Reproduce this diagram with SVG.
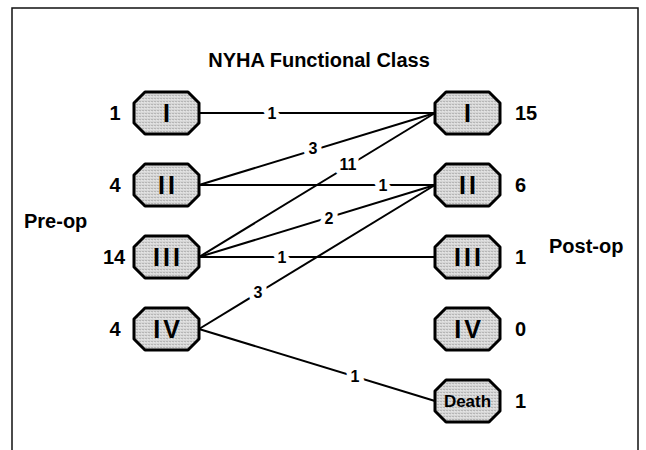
<svg xmlns="http://www.w3.org/2000/svg" width="646" height="450" viewBox="0 0 646 450">
  <style>
    .frame { fill: none; stroke: #111; stroke-width: 1.5; }
    .node { fill: url(#stipple); stroke: #000; stroke-width: 3; stroke-linejoin: round; }
    .num { font-family: "Liberation Sans", Arial, sans-serif; font-weight: bold; font-size: 25px; letter-spacing: 3px; fill: #000; text-anchor: middle; }
    .death { font-family: "Liberation Sans", Arial, sans-serif; font-weight: bold; font-size: 17px; fill: #000; text-anchor: middle; }
    .lab { font-family: "Liberation Sans", Arial, sans-serif; font-weight: bold; font-size: 20px; fill: #000; }
    .edge { stroke: #000; stroke-width: 2; fill: none; }
    .elab { font-family: "Liberation Sans", Arial, sans-serif; font-weight: bold; font-size: 16px; fill: #000; text-anchor: middle;
            stroke: #fff; stroke-width: 10; paint-order: stroke; stroke-linejoin: round; }
  </style>
  <defs>
    <!-- light grey stipple used to fill the class boxes -->
    <pattern id="stipple" width="3" height="3" patternUnits="userSpaceOnUse">
      <rect width="3" height="3" fill="#d6d6d6"/>
      <rect x="0" y="0" width="1" height="1" fill="#959595"/>
      <rect x="2" y="1" width="1" height="1" fill="#f0f0f0"/>
    </pattern>
    <!-- octagonal class box, 65 x 42 -->
    <polygon id="oct" points="-21.5,-21 21.5,-21 32.5,-10 32.5,10 21.5,21 -21.5,21 -32.5,10 -32.5,-10"/>
  </defs>

  <rect width="646" height="450" fill="#fff"/>
  <!-- outer frame -->
  <path class="frame" d="M12,452 V8 H638 V452"/>

  <text class="lab" x="319" y="67" text-anchor="middle" font-size="17">NYHA Functional Class</text>
  <text class="lab" x="24" y="228" font-size="21">Pre-op</text>
  <text class="lab" x="549" y="253" font-size="20">Post-op</text>

  <!-- transitions between classes -->
  <g id="connectors">
    <line class="edge" x1="199" y1="113" x2="435" y2="113"/>
    <line class="edge" x1="199" y1="185" x2="435" y2="113"/>
    <line class="edge" x1="199" y1="185" x2="435" y2="185"/>
    <line class="edge" x1="199" y1="257" x2="435" y2="113"/>
    <line class="edge" x1="199" y1="257" x2="435" y2="185"/>
    <line class="edge" x1="199" y1="257" x2="435" y2="257"/>
    <line class="edge" x1="199" y1="329" x2="435" y2="185"/>
    <line class="edge" x1="199" y1="329" x2="435" y2="401"/>
    <text class="elab" x="272" y="119">1</text>
    <text class="elab" x="313" y="154">3</text>
    <text class="elab" x="383" y="191">1</text>
    <text class="elab" x="348" y="170">11</text>
    <text class="elab" x="329" y="224">2</text>
    <text class="elab" x="282" y="263">1</text>
    <text class="elab" x="258" y="298">3</text>
    <text class="elab" x="355" y="382">1</text>
  </g>

  <!-- pre-op classes -->
  <g id="pre-I">
    <use href="#oct" class="node" x="166.5" y="113"/>
    <text class="num" x="168" y="122">I</text>
    <text class="lab" x="115" y="120" text-anchor="middle">1</text>
  </g>
  <g id="pre-II">
    <use href="#oct" class="node" x="166.5" y="185"/>
    <text class="num" x="168" y="194">II</text>
    <text class="lab" x="115" y="192" text-anchor="middle">4</text>
  </g>
  <g id="pre-III">
    <use href="#oct" class="node" x="166.5" y="257"/>
    <text class="num" x="168" y="266">III</text>
    <text class="lab" x="114" y="264" text-anchor="middle">14</text>
  </g>
  <g id="pre-IV">
    <use href="#oct" class="node" x="166.5" y="329"/>
    <text class="num" x="168" y="338">IV</text>
    <text class="lab" x="115" y="336" text-anchor="middle">4</text>
  </g>

  <!-- post-op classes -->
  <g id="post-I">
    <use href="#oct" class="node" x="467.5" y="113"/>
    <text class="num" x="469" y="122">I</text>
    <text class="lab" x="515" y="120">15</text>
  </g>
  <g id="post-II">
    <use href="#oct" class="node" x="467.5" y="185"/>
    <text class="num" x="469" y="194">II</text>
    <text class="lab" x="515" y="192">6</text>
  </g>
  <g id="post-III">
    <use href="#oct" class="node" x="467.5" y="257"/>
    <text class="num" x="469" y="266">III</text>
    <text class="lab" x="515" y="264">1</text>
  </g>
  <g id="post-IV">
    <use href="#oct" class="node" x="467.5" y="329"/>
    <text class="num" x="469" y="338">IV</text>
    <text class="lab" x="515" y="336">0</text>
  </g>
  <g id="post-death">
    <use href="#oct" class="node" x="467.5" y="401"/>
    <text class="death" x="467.5" y="407">Death</text>
    <text class="lab" x="515" y="408">1</text>
  </g>
</svg>
